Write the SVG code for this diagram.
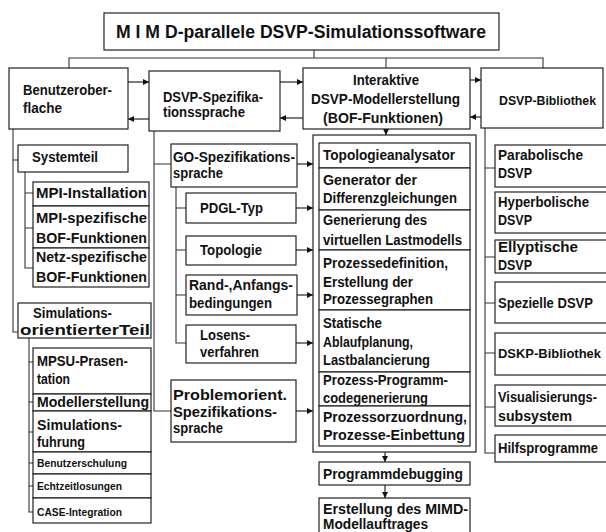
<svg xmlns="http://www.w3.org/2000/svg" width="606" height="532" viewBox="0 0 606 532">
  <defs>
    <marker id="arr" viewBox="0 0 6 6" refX="6" refY="3" markerWidth="6" markerHeight="6" markerUnits="userSpaceOnUse" orient="auto">
      <path d="M0,0 L6,3 L0,6 Z" fill="#111"/>
    </marker>
    <style>
      .box { fill: #fff; stroke: #222; stroke-width: 1.2; }
      .ln { fill: none; stroke: #333; stroke-width: 1.1; }
      .ar { fill: none; stroke: #111; stroke-width: 1.1; marker-end: url(#arr); }
      text { font-family: "Liberation Sans", Arial, sans-serif; font-weight: bold; fill: #111; }
      .t16 { font-size: 17.5px; }
      .t13 { font-size: 14px; }
      .t12 { font-size: 14px; }
      .t14 { font-size: 15px; }
      .t10 { font-size: 11px; }
      .tn { font-size: 13px; }
    </style>
  </defs>

  <rect width="606" height="532" fill="#fff"/>

  <!-- tree lines and arrows -->
  <g id="connectors">
    <!-- from the title to the four main areas -->
    <path class="ln" d="M314,50 V58 M69,68 V58 H543 V68 M386,58 V68"/>
    <!-- arrows between the main areas -->
    <line class="ar" x1="128" y1="82" x2="149" y2="82"/>
    <line class="ar" x1="149" y1="119" x2="128" y2="119"/>
    <line class="ar" x1="280" y1="82" x2="303" y2="82"/>
    <line class="ar" x1="303" y1="118" x2="280" y2="118"/>
    <line class="ar" x1="470" y1="80" x2="481" y2="80"/>
    <line class="ar" x1="481" y1="117" x2="470" y2="117"/>
    <line class="ar" x1="386" y1="129" x2="386" y2="135"/>
    <!-- user interface branch -->
    <path class="ln" d="M13,129 V332 H18 M13,160 H18"/>
    <path class="ln" d="M25,172 V268 H33 M25,193 H33 M25,228 H33"/>
    <path class="ln" d="M29,338 V512 H33 M29,362 H33 M29,402 H33 M29,432 H33 M29,463 H33 M29,486 H33"/>
    <!-- specification language branch -->
    <path class="ln" d="M154,131 V411 H171 M154,164 H171"/>
    <path class="ln" d="M176,187 V343 H186 M176,208 H186 M176,250 H186 M176,295 H186"/>
    <line class="ar" x1="297" y1="164" x2="313" y2="164"/>
    <line class="ar" x1="296" y1="208" x2="313" y2="208"/>
    <line class="ar" x1="296" y1="250" x2="313" y2="250"/>
    <line class="ar" x1="297" y1="295" x2="313" y2="295"/>
    <line class="ar" x1="296" y1="343" x2="313" y2="343"/>
    <line class="ar" x1="296" y1="411" x2="313" y2="411"/>
    <!-- model building chain -->
    <line class="ar" x1="385" y1="452" x2="385" y2="462"/>
    <line class="ar" x1="385" y1="485" x2="385" y2="498"/>
    <!-- library branch -->
    <path class="ln" d="M485,128 V453 H495 M485,168 H495 M485,257 H495 M485,303 H495 M485,353 H495 M485,407 H495"/>
  </g>

  <g id="title">
    <rect class="box" x="104" y="13" width="395" height="37"/>
    <text class="t16" x="116" y="37.5" textLength="370" lengthAdjust="spacingAndGlyphs">M I M D-parallele DSVP-Simulationssoftware</text>
  </g>

  <!-- main areas -->
  <g id="benutzeroberflache">
    <rect class="box" x="9" y="68" width="119" height="61"/>
    <text class="t13" x="23" y="95" textLength="89" lengthAdjust="spacingAndGlyphs">Benutzerober-</text>
    <text class="t13" x="23" y="113" textLength="39" lengthAdjust="spacingAndGlyphs">flache</text>
  </g>
  <g id="spezifikationssprache">
    <rect class="box" x="149" y="71" width="131" height="60"/>
    <text class="t13" x="163" y="102" textLength="100" lengthAdjust="spacingAndGlyphs">DSVP-Spezifika-</text>
    <text class="t13" x="163" y="117" textLength="82" lengthAdjust="spacingAndGlyphs">tionssprache</text>
  </g>
  <g id="modellerstellung-interaktiv">
    <rect class="box" x="303" y="68" width="167" height="61"/>
    <text class="t13" x="353" y="85" textLength="66" lengthAdjust="spacingAndGlyphs">Interaktive</text>
    <text class="t13" x="311" y="104" textLength="149" lengthAdjust="spacingAndGlyphs">DSVP-Modellerstellung</text>
    <text class="t13" x="323" y="123" textLength="120" lengthAdjust="spacingAndGlyphs">(BOF-Funktionen)</text>
  </g>
  <g id="bibliothek">
    <rect class="box" x="481" y="68" width="122" height="60"/>
    <text class="tn" x="499" y="105" textLength="97" lengthAdjust="spacingAndGlyphs">DSVP-Bibliothek</text>
  </g>

  <!-- user interface parts -->
  <g id="systemteil">
    <rect class="box" x="18" y="145" width="110" height="27"/>
    <text class="t12" x="32" y="162" textLength="66" lengthAdjust="spacingAndGlyphs">Systemteil</text>
  </g>
  <g id="mpi-installation">
    <rect class="box" x="33" y="182" width="116" height="24"/>
    <text class="t12" x="36" y="198" textLength="111" lengthAdjust="spacingAndGlyphs">MPI-Installation</text>
  </g>
  <g id="mpi-bof">
    <rect class="box" x="33" y="206" width="116" height="42"/>
    <text class="t12" x="36" y="223" textLength="111" lengthAdjust="spacingAndGlyphs">MPI-spezifische</text>
    <text class="t12" x="36" y="243" textLength="111" lengthAdjust="spacingAndGlyphs">BOF-Funktionen</text>
  </g>
  <g id="netz-bof">
    <rect class="box" x="33" y="248" width="116" height="39"/>
    <text class="t12" x="36" y="262" textLength="111" lengthAdjust="spacingAndGlyphs">Netz-spezifische</text>
    <text class="t12" x="36" y="282" textLength="111" lengthAdjust="spacingAndGlyphs">BOF-Funktionen</text>
  </g>
  <g id="simulationsteil">
    <rect class="box" x="18" y="303" width="133" height="35"/>
    <text class="t12" x="33" y="318" textLength="79" lengthAdjust="spacingAndGlyphs">Simulations-</text>
    <text class="t12" x="20" y="335" textLength="130" lengthAdjust="spacingAndGlyphs">orientierterTeil</text>
  </g>
  <g id="mpsu">
    <rect class="box" x="33" y="348" width="118" height="46"/>
    <text class="t14" x="37" y="366" textLength="91" lengthAdjust="spacingAndGlyphs">MPSU-Prasen-</text>
    <text class="t14" x="37" y="384" textLength="33" lengthAdjust="spacingAndGlyphs">tation</text>
  </g>
  <g id="modellerstellung">
    <rect class="box" x="33" y="394" width="118" height="17"/>
    <text class="t14" x="37" y="407" textLength="112" lengthAdjust="spacingAndGlyphs">Modellerstellung</text>
  </g>
  <g id="simulationsfuhrung">
    <rect class="box" x="33" y="411" width="118" height="41"/>
    <text class="t14" x="37" y="430" textLength="85" lengthAdjust="spacingAndGlyphs">Simulations-</text>
    <text class="t14" x="37" y="447" textLength="48" lengthAdjust="spacingAndGlyphs">fuhrung</text>
  </g>
  <g id="benutzerschulung">
    <rect class="box" x="33" y="452" width="118" height="22"/>
    <text class="t10" x="37" y="467" textLength="90" lengthAdjust="spacingAndGlyphs">Benutzerschulung</text>
  </g>
  <g id="echtzeitlosungen">
    <rect class="box" x="33" y="474" width="118" height="24"/>
    <text class="t10" x="37" y="490" textLength="85" lengthAdjust="spacingAndGlyphs">Echtzeitlosungen</text>
  </g>
  <g id="case-integration">
    <rect class="box" x="33" y="498" width="118" height="25"/>
    <text class="t10" x="37" y="516" textLength="85" lengthAdjust="spacingAndGlyphs">CASE-Integration</text>
  </g>

  <!-- specification language parts -->
  <g id="go-spezifikation">
    <rect class="box" x="171" y="144" width="126" height="43"/>
    <text class="t12" x="173" y="162" textLength="122" lengthAdjust="spacingAndGlyphs">GO-Spezifikations-</text>
    <text class="t12" x="173" y="178" textLength="50" lengthAdjust="spacingAndGlyphs">sprache</text>
  </g>
  <g id="pdgl-typ">
    <rect class="box" x="186" y="193" width="110" height="30"/>
    <text class="t13" x="200" y="213" textLength="63" lengthAdjust="spacingAndGlyphs">PDGL-Typ</text>
  </g>
  <g id="topologie">
    <rect class="box" x="186" y="236" width="110" height="29"/>
    <text class="t13" x="200" y="255" textLength="62" lengthAdjust="spacingAndGlyphs">Topologie</text>
  </g>
  <g id="randbedingungen">
    <rect class="box" x="186" y="275" width="111" height="40"/>
    <text class="t12" x="189" y="290" textLength="104" lengthAdjust="spacingAndGlyphs">Rand-,Anfangs-</text>
    <text class="t12" x="189" y="308" textLength="83" lengthAdjust="spacingAndGlyphs">bedingungen</text>
  </g>
  <g id="losensverfahren">
    <rect class="box" x="186" y="325" width="110" height="38"/>
    <text class="t12" x="200" y="340" textLength="50" lengthAdjust="spacingAndGlyphs">Losens-</text>
    <text class="t12" x="200" y="357" textLength="59" lengthAdjust="spacingAndGlyphs">verfahren</text>
  </g>
  <g id="problemorient">
    <rect class="box" x="171" y="380" width="125" height="62"/>
    <text class="t12" x="173" y="400" textLength="114" lengthAdjust="spacingAndGlyphs">Problemorient.</text>
    <text class="t12" x="173" y="417" textLength="104" lengthAdjust="spacingAndGlyphs">Spezifikations-</text>
    <text class="t12" x="173" y="433" textLength="50" lengthAdjust="spacingAndGlyphs">sprache</text>
  </g>

  <!-- model building stages -->
  <g id="modellierung">
    <rect class="box" x="313" y="135" width="163" height="317"/>
  </g>
  <g id="topologieanalysator">
    <rect class="box" x="319" y="143" width="151" height="25"/>
    <text class="t12" x="323" y="160" textLength="132" lengthAdjust="spacingAndGlyphs">Topologieanalysator</text>
  </g>
  <g id="generator">
    <rect class="box" x="319" y="168" width="151" height="42"/>
    <text class="t12" x="323" y="185" textLength="94" lengthAdjust="spacingAndGlyphs">Generator  der</text>
    <text class="t12" x="323" y="203" textLength="134" lengthAdjust="spacingAndGlyphs">Differenzgleichungen</text>
  </g>
  <g id="lastmodell">
    <rect class="box" x="319" y="210" width="151" height="40"/>
    <text class="t12" x="323" y="225" textLength="104" lengthAdjust="spacingAndGlyphs">Generierung des</text>
    <text class="t12" x="323" y="245" textLength="139" lengthAdjust="spacingAndGlyphs">virtuellen Lastmodells</text>
  </g>
  <g id="prozessdefinition">
    <rect class="box" x="319" y="250" width="151" height="60"/>
    <text class="t12" x="323" y="268" textLength="125" lengthAdjust="spacingAndGlyphs">Prozessedefinition,</text>
    <text class="t12" x="323" y="287" textLength="90" lengthAdjust="spacingAndGlyphs">Erstellung der</text>
    <text class="t12" x="323" y="304" textLength="110" lengthAdjust="spacingAndGlyphs">Prozessegraphen</text>
  </g>
  <g id="ablaufplanung">
    <rect class="box" x="319" y="310" width="151" height="62"/>
    <text class="t12" x="323" y="328" textLength="59" lengthAdjust="spacingAndGlyphs">Statische</text>
    <text class="t12" x="323" y="347" textLength="90" lengthAdjust="spacingAndGlyphs">Ablaufplanung,</text>
    <text class="t12" x="323" y="365" textLength="107" lengthAdjust="spacingAndGlyphs">Lastbalancierung</text>
  </g>
  <g id="codegenerierung">
    <rect class="box" x="319" y="372" width="151" height="34"/>
    <text class="t12" x="323" y="385" textLength="125" lengthAdjust="spacingAndGlyphs">Prozess-Programm-</text>
    <text class="t12" x="323" y="403" textLength="105" lengthAdjust="spacingAndGlyphs">codegenerierung</text>
  </g>
  <g id="prozessorzuordnung">
    <rect class="box" x="319" y="406" width="151" height="40"/>
    <text class="t12" x="323" y="422" textLength="144" lengthAdjust="spacingAndGlyphs">Prozessorzuordnung,</text>
    <text class="t12" x="323" y="440" textLength="142" lengthAdjust="spacingAndGlyphs">Prozesse-Einbettung</text>
  </g>
  <g id="programmdebugging">
    <rect class="box" x="319" y="462" width="151" height="23"/>
    <text class="t12" x="323" y="479" textLength="140" lengthAdjust="spacingAndGlyphs">Programmdebugging</text>
  </g>
  <g id="modellauftrag">
    <rect class="box" x="319" y="498" width="151" height="40"/>
    <text class="t12" x="323" y="514" textLength="145" lengthAdjust="spacingAndGlyphs">Erstellung des MIMD-</text>
    <text class="t12" x="323" y="529" textLength="105" lengthAdjust="spacingAndGlyphs">Modellauftrages</text>
  </g>

  <!-- library parts -->
  <g id="parabolisch">
    <rect class="box" x="495" y="145" width="115" height="42"/>
    <text class="t12" x="498" y="160" textLength="85" lengthAdjust="spacingAndGlyphs">Parabolische</text>
    <text class="t12" x="498" y="178" textLength="34" lengthAdjust="spacingAndGlyphs">DSVP</text>
  </g>
  <g id="hyperbolisch">
    <rect class="box" x="495" y="192" width="115" height="41"/>
    <text class="t12" x="498" y="207" textLength="91" lengthAdjust="spacingAndGlyphs">Hyperbolische</text>
    <text class="t12" x="498" y="225" textLength="34" lengthAdjust="spacingAndGlyphs">DSVP</text>
  </g>
  <g id="ellyptisch">
    <rect class="box" x="495" y="240" width="115" height="33"/>
    <text class="t12" x="498" y="252" textLength="80" lengthAdjust="spacingAndGlyphs">Ellyptische</text>
    <text class="t12" x="498" y="270" textLength="34" lengthAdjust="spacingAndGlyphs">DSVP</text>
  </g>
  <g id="spezielle">
    <rect class="box" x="495" y="282" width="115" height="41"/>
    <text class="t12" x="498" y="308" textLength="95" lengthAdjust="spacingAndGlyphs">Spezielle DSVP</text>
  </g>
  <g id="dskp">
    <rect class="box" x="495" y="333" width="115" height="42"/>
    <text class="tn" x="498" y="358" textLength="103" lengthAdjust="spacingAndGlyphs">DSKP-Bibliothek</text>
  </g>
  <g id="visualisierung">
    <rect class="box" x="495" y="385" width="115" height="41"/>
    <text class="t12" x="498" y="402" textLength="99" lengthAdjust="spacingAndGlyphs">Visualisierungs-</text>
    <text class="t12" x="498" y="421" textLength="74" lengthAdjust="spacingAndGlyphs">subsystem</text>
  </g>
  <g id="hilfsprogramme">
    <rect class="box" x="495" y="435" width="115" height="27"/>
    <text class="t12" x="498" y="453" textLength="100" lengthAdjust="spacingAndGlyphs">Hilfsprogramme</text>
  </g>
</svg>
